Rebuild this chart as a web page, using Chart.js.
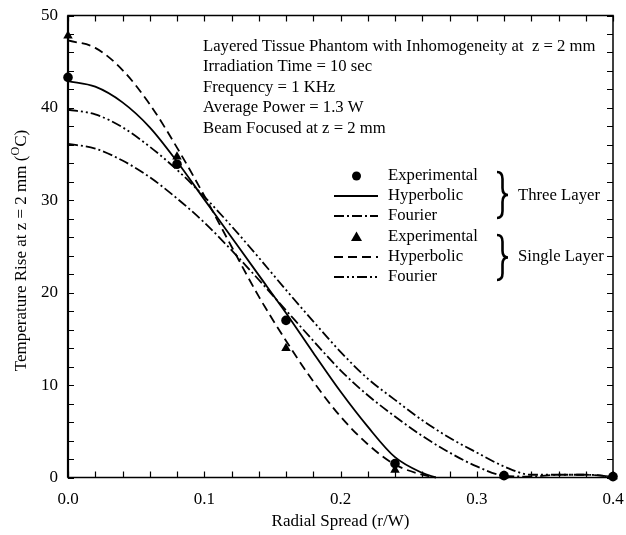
<!DOCTYPE html>
<html>
<head>
<meta charset="utf-8">
<script src="https://cdn.jsdelivr.net/npm/chart.js@4.4.0/dist/chart.umd.min.js"></script>
<style>
html,body{margin:0;padding:0;background:#fff;}
#wrap{width:626px;height:535px;}
</style>
</head>
<body>
<div id="wrap"><canvas id="c" width="626" height="535"></canvas></div>
<script>
// ---- data ----
const rFine = [0,0.02,0.04,0.06,0.08,0.10,0.12,0.14,0.16,0.18,0.20,0.22,0.24,0.26,0.28,0.30,0.32,0.34,0.36,0.38,0.40];
const rHyp = [0,0.02,0.04,0.06,0.08,0.10,0.12,0.14,0.16,0.18,0.20,0.22,0.24,0.26,0.27];
const hypThree = [42.9,42.3,40.6,37.9,34.2,30.1,26.0,21.9,17.8,13.5,9.3,5.5,2.2,0.5,0];
const hypSingle = [47.3,46.5,44.1,40.4,35.7,30.5,25.0,19.6,14.8,10.4,6.6,3.6,1.4,0.3,0];
const fourThree = [36.1,35.6,34.3,32.5,30.2,27.6,24.6,21.4,18.1,14.8,11.6,8.9,6.6,4.5,2.7,1.2,0.2,0.1,0.3,0.3,0.1];
const fourSingle = [39.8,39.3,37.9,35.8,33.3,30.4,27.2,23.8,20.3,16.9,13.6,10.7,8.4,6.2,4.3,2.7,1.2,0.3,0.3,0.3,0.1];
const rExp = [0,0.08,0.16,0.24,0.32,0.40];
const expThree = [43.3,33.9,17.0,1.5,0.2,0.1];
const expSingle = [47.8,34.7,14.0,0.8,0.2,0.1];

const xTickValues = [0,0.1,0.2,0.3,0.4];
const xTickLabels = ['0.0','0.1','0.2','0.3','0.4'];
const yTickValues = [0,10,20,30,40,50];
const yTickLabels = ['0','10','20','30','40','50'];
const xTitle = 'Radial Spread (r/W)';
const yTitleMain = 'Temperature Rise at z = 2 mm (';
const yTitleSup = 'O';
const yTitleEnd = 'C)';
const infoLines = ['Layered Tissue Phantom with Inhomogeneity at  z = 2 mm','Irradiation Time = 10 sec','Frequency = 1 KHz','Average Power = 1.3 W','Beam Focused at z = 2 mm'];
const legendLabels = ['Experimental','Hyperbolic','Fourier','Experimental','Hyperbolic','Fourier'];
const groupLabels = ['Three Layer','Single Layer'];

const SERIF = '"Liberation Serif", "Times New Roman", serif';
const pts = (xs, ys) => ys.map((v,i)=>({x:xs[i], y:v}));

const DASH = [9,5];
const DASHDOT = [10,3,2,3];
const DASHDOTDOT = [10,3,2,3,2,3];

const curve = (label, xs, ys, dash) => ({
  label, data: pts(xs, ys), showLine:true, borderColor:'#000', borderWidth:1.8,
  borderDash: dash, pointRadius:0, cubicInterpolationMode:'monotone', fill:false, clip:false
});

const overlay = {
  id:'overlay',
  afterDraw(chart){
    const ctx = chart.ctx, a = chart.chartArea;
    const xs = chart.scales.x, ys = chart.scales.y;
    ctx.save();
    ctx.strokeStyle = '#000'; ctx.fillStyle = '#000';
    // frame
    ctx.lineWidth = 1.5;
    ctx.setLineDash([]);
    ctx.strokeRect(a.left, a.top, a.right-a.left, a.bottom-a.top);
    ctx.lineWidth = 2.2;
    ctx.beginPath(); ctx.moveTo(a.left, a.top); ctx.lineTo(a.left, a.bottom); ctx.stroke();
    // ticks inward
    ctx.lineWidth = 1.2;
    const TL = 6;
    ctx.beginPath();
    for (let i=0;i<=20;i++){
      const v = i*0.02; const px = Math.round(xs.getPixelForValue(v))+0.5;
      ctx.moveTo(px, a.bottom); ctx.lineTo(px, a.bottom-TL);
      ctx.moveTo(px, a.top); ctx.lineTo(px, a.top+TL);
    }
    for (let i=0;i<=25;i++){
      const v = i*2; const py = Math.round(ys.getPixelForValue(v))+0.5;
      ctx.moveTo(a.left, py); ctx.lineTo(a.left+TL, py);
      ctx.moveTo(a.right, py); ctx.lineTo(a.right-TL, py);
    }
    ctx.stroke();
    // tick labels
    ctx.font = '17px ' + SERIF;
    ctx.textAlign = 'center'; ctx.textBaseline = 'middle';
    xTickValues.forEach((v,i)=>{ ctx.fillText(xTickLabels[i], xs.getPixelForValue(v), a.bottom+22); });
    ctx.textAlign = 'right';
    yTickValues.forEach((v,i)=>{ ctx.fillText(yTickLabels[i], a.left-10, ys.getPixelForValue(v)); });
    // x title
    ctx.font = '17px ' + SERIF;
    ctx.textAlign = 'center';
    ctx.fillText(xTitle, (a.left+a.right)/2, a.bottom+44);
    // y title
    ctx.save();
    ctx.translate(22, (a.top+a.bottom)/2 + 4);
    ctx.rotate(-Math.PI/2);
    ctx.textAlign = 'left';
    ctx.font = '17px ' + SERIF;
    const w1 = ctx.measureText(yTitleMain).width;
    const w3 = ctx.measureText(yTitleEnd).width;
    ctx.font = '12px ' + SERIF;
    const w2 = ctx.measureText(yTitleSup).width;
    let sx = -(w1+w2+w3)/2;
    ctx.font = '17px ' + SERIF;
    ctx.fillText(yTitleMain, sx, 0); sx += w1;
    ctx.font = '12px ' + SERIF;
    ctx.fillText(yTitleSup, sx, -6); sx += w2;
    ctx.font = '17px ' + SERIF;
    ctx.fillText(yTitleEnd, sx, 0);
    ctx.restore();
    // info text
    ctx.font = '16.7px ' + SERIF;
    ctx.textAlign = 'left'; ctx.textBaseline = 'alphabetic';
    infoLines.forEach((t,i)=>{ ctx.fillText(t, 203, 51 + i*20.4); });
    // legend
    const rowsY = [176,196,216,237,257,277];
    const styles = ['circle', [], DASHDOT, 'triangle', DASH, DASHDOTDOT];
    ctx.textBaseline = 'middle';
    rowsY.forEach((y,i)=>{
      const s = styles[i];
      if (s === 'circle'){
        ctx.beginPath(); ctx.arc(356.5, y, 4.5, 0, Math.PI*2); ctx.fill();
      } else if (s === 'triangle'){
        ctx.beginPath(); ctx.moveTo(356.5, y-5.5); ctx.lineTo(362, y+4); ctx.lineTo(351, y+4); ctx.closePath(); ctx.fill();
      } else {
        ctx.setLineDash(s); ctx.lineWidth = 1.8;
        ctx.beginPath(); ctx.moveTo(334, y); ctx.lineTo(378, y); ctx.stroke();
        ctx.setLineDash([]);
      }
      ctx.fillText(legendLabels[i], 388, y);
    });
    // braces
    const brace = (x, y1, y2, w) => {
      const ym = (y1+y2)/2, h1 = ym-y1, h2 = y2-ym;
      ctx.beginPath();
      ctx.moveTo(x, y1);
      ctx.quadraticCurveTo(x+w*0.5, y1, x+w*0.5, y1+h1*0.3);
      ctx.lineTo(x+w*0.5, ym-h1*0.3);
      ctx.quadraticCurveTo(x+w*0.5, ym, x+w, ym);
      ctx.quadraticCurveTo(x+w*0.5, ym, x+w*0.5, ym+h2*0.3);
      ctx.lineTo(x+w*0.5, y2-h2*0.3);
      ctx.quadraticCurveTo(x+w*0.5, y2, x, y2);
      ctx.stroke();
    };
    ctx.lineWidth = 2.6; ctx.setLineDash([]);
    brace(497, 172, 218, 11);
    brace(497, 235, 280, 11);
    ctx.fillText(groupLabels[0], 518, 196);
    ctx.fillText(groupLabels[1], 518, 257);
    ctx.restore();
  }
};

new Chart(document.getElementById('c'), {
  type:'scatter',
  data:{ datasets:[
    curve('Hyperbolic (Three Layer)', rHyp, hypThree, []),
    curve('Fourier (Three Layer)', rFine, fourThree, DASHDOT),
    curve('Hyperbolic (Single Layer)', rHyp, hypSingle, DASH),
    curve('Fourier (Single Layer)', rFine, fourSingle, DASHDOTDOT),
    { label:'Experimental (Three Layer)', data:pts(rExp, expThree), showLine:false, pointStyle:'circle', pointRadius:4.8, backgroundColor:'#000', borderColor:'#000', borderWidth:0, clip:false },
    { label:'Experimental (Single Layer)', data:pts(rExp, expSingle), showLine:false, pointStyle:'triangle', pointRadius:5.5, backgroundColor:'#000', borderColor:'#000', borderWidth:0, clip:false }
  ]},
  options:{
    responsive:false, animation:false, devicePixelRatio:1,
    layout:{ padding:{ left:68, right:13, top:15.5, bottom:57.5 } },
    plugins:{ legend:{display:false}, tooltip:{enabled:false}, title:{display:false} },
    scales:{
      x:{ type:'linear', min:0, max:0.4, display:false },
      y:{ type:'linear', min:0, max:50, display:false }
    }
  },
  plugins:[overlay]
});
</script>
</body>
</html>
